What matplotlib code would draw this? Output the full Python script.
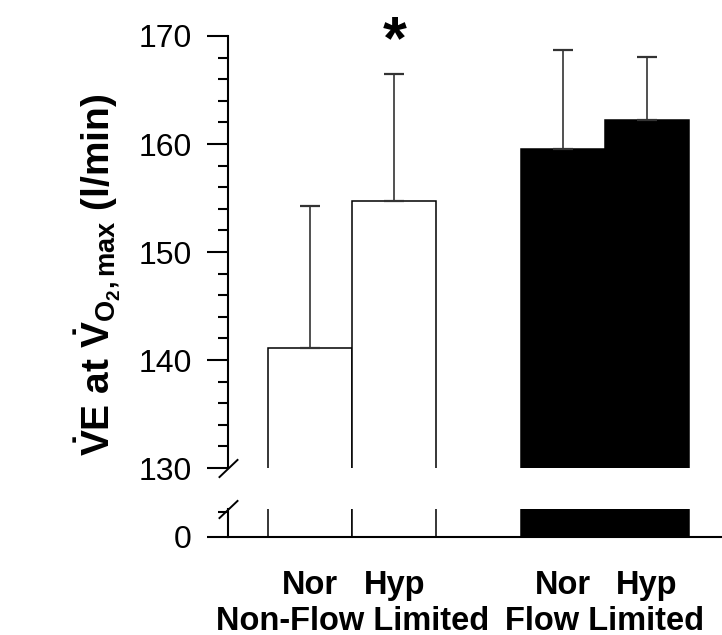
import numpy as np
import matplotlib.pyplot as plt
from matplotlib.ticker import MultipleLocator

plt.rcParams['font.family'] = ['Liberation Sans', 'DejaVu Sans']
plt.rcParams['mathtext.fontset'] = 'custom'
plt.rcParams['mathtext.rm'] = 'Liberation Sans:bold'
plt.rcParams['mathtext.it'] = 'Liberation Sans:bold'
plt.rcParams['mathtext.bf'] = 'Liberation Sans:bold'

# Data
conditions = ['Nor', 'Hyp', 'Nor', 'Hyp']
groups = ['Non-Flow Limited', 'Flow Limited']
means = [141.1, 154.7, 159.5, 162.2]
sd_upper = [13.2, 11.8, 9.2, 5.9]
bar_colors = ['white', 'white', 'black', 'black']
x_pos = [0, 1, 3, 4]

fig = plt.figure(figsize=(7.22, 6.35), dpi=100)
W, H = 722, 635
ax_hi = fig.add_axes([228 / W, 1 - 468 / H, 1 - 228 / W, (468 - 36) / H])
ax_lo = fig.add_axes([228 / W, 1 - 537 / H, 1 - 228 / W, (537 - 509) / H])

lw = 1.5
for ax in (ax_hi, ax_lo):
    ax.bar(x_pos, means, width=1.0, bottom=0, color=bar_colors,
           edgecolor='black', linewidth=1.1, zorder=2)
    ax.set_xlim(-0.974, 4.89)
    ax.spines['top'].set_visible(False)
    ax.spines['right'].set_visible(False)
    ax.spines['left'].set_linewidth(lw)
    ax.spines['bottom'].set_linewidth(lw)

ax_hi.errorbar(x_pos, means, yerr=[np.zeros(4), sd_upper], fmt='none',
               ecolor='#333333', elinewidth=1.2, capsize=7.5, capthick=1.6, zorder=3)

ax_hi.set_ylim(130, 170)
ax_hi.spines['bottom'].set_visible(False)
ax_hi.set_xticks([])
ax_hi.yaxis.set_major_locator(MultipleLocator(10))
ax_hi.yaxis.set_minor_locator(MultipleLocator(2))
ax_hi.tick_params(axis='y', which='major', length=15, width=lw, labelsize=23, pad=11)
ax_hi.tick_params(axis='y', which='minor', length=7, width=lw)

ax_lo.set_ylim(0, 2.6)
ax_lo.set_yticks([0])
ax_lo.set_yticks([2.3], minor=True)
ax_lo.tick_params(axis='y', which='major', length=15, width=lw, labelsize=23, pad=11)
ax_lo.tick_params(axis='y', which='minor', length=7, width=lw)
ax_lo.set_xticks(x_pos)
ax_lo.set_xticklabels(conditions, fontsize=23.5, fontweight='bold')
ax_lo.tick_params(axis='x', length=0, pad=24)

# group labels
for label, xc in zip(groups, [0.5, 3.5]):
    ax_lo.text(xc, -84 / 28, label, ha='center', va='center',
               fontsize=23.5, fontweight='bold',
               transform=ax_lo.get_xaxis_transform())

# significance marker
ax_hi.text(1, 0.985, '*', ha='center', va='center', fontsize=44, fontweight='bold',
           transform=ax_hi.get_xaxis_transform())

# break marks
kw = dict(marker=[(-1, -0.95), (1, 0.95)], markersize=14, linestyle='none',
          color='k', mec='k', mew=1.4, clip_on=False)
ax_hi.plot([0], [0], transform=ax_hi.transAxes, **kw)
ax_lo.plot([0], [1], transform=ax_lo.transAxes, **kw)

fig.text(98 / W, 1 - 275 / H,
         r'$\dot{\mathrm{V}}\mathrm{E}$ at $\dot{\mathrm{V}}_{\mathrm{O_2,max}}$ (l/min)',
         rotation=90, ha='center', va='center', fontsize=28, fontweight='bold')

fig.savefig('out.png', dpi=100)
